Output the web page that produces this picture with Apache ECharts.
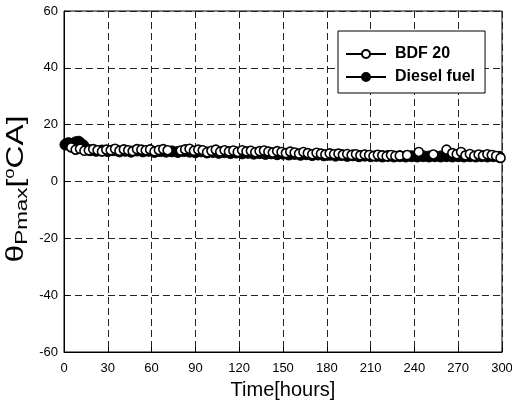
<!DOCTYPE html>
<html><head><meta charset="utf-8">
<script src="https://cdn.jsdelivr.net/npm/echarts@6/dist/echarts.min.js"></script>
<style>html,body{margin:0;padding:0;background:#fff}#c{width:512px;height:413px}</style>
</head><body><div id="c"></div>
<script>
var xTicks = [0, 30, 60, 90, 120, 150, 180, 210, 240, 270, 300];
var yTicks = [-60, -40, -20, 0, 20, 40, 60];
var seriesNames = ['BDF 20', 'Diesel fuel'];
var xTitle = 'Time[hours]';
var yTitle = '{t|θ}{s|Pmax}{t|[}{o|o}{t|CA]}';

var bdf20 = [
 [5,12.0],[8,11.2],[11,11.5],[14,10.8],[17,11.0],[20,11.4],[23,11.0],[26,10.6],[29,11.2],[32,11.0],
 [35,11.5],[38,10.8],[41,11.3],[44,11.0],[47,10.7],[50,11.4],[53,11.2],[56,11.0],[59,11.3],[62,10.6],
 [65,11.1],[68,11.4],[71,11.0],[80,10.9],[83,11.3],[86,11.5],[89,10.8],[92,11.2],[95,11.0],[98,10.3],
 [101,10.8],[104,11.2],[107,10.5],[110,11.0],[113,10.6],[116,10.9],[119,10.4],[122,11.0],[125,10.6],[128,10.8],
 [131,10.3],[134,10.7],[137,10.9],[140,10.5],[143,10.2],[146,10.7],[149,10.4],[152,10.0],[155,10.5],[158,10.2],
 [161,9.8],[164,10.4],[167,10.0],[170,9.6],[173,10.1],[176,9.8],[179,9.5],[182,9.9],[185,9.6],[188,9.8],
 [191,9.4],[194,9.7],[197,9.3],[200,9.6],[203,9.2],[206,9.5],[209,9.3],[212,9.0],[215,9.4],[218,9.2],
 [221,8.9],[224,9.3],[227,9.0],[230,9.1],[235,9.3],[243,10.4],[253,9.5],[262,11.2],[266,10.0],[269,9.6],
 [272,10.4],[275,9.2],[278,9.7],[281,9.0],[284,9.5],[287,9.1],[290,9.6],[293,9.3],[296,9.0],[299,8.3]
];

var diesel = [
 [1,13.0],[2,13.2],[3,13.5],[4,13.0],[5,12.8],[6,13.3],[8,13.8],[10,14.0],[11,13.5],[13,12.8],
 [15,11.5],[18,11.0],[22,10.8],[26,10.9],[30,10.7],[34,11.0],[38,10.6],[42,10.8],[46,10.5],[50,10.9],
 [54,10.6],[58,10.8],[62,10.4],[66,10.7],[70,10.5],[74,10.6],[78,10.4],[82,10.7],[86,10.5],[90,10.3],
 [94,10.6],[98,10.2],[102,10.4],[106,10.1],[110,10.3],[114,10.0],[118,10.2],[122,9.9],[126,10.1],[130,9.8],
 [134,10.0],[138,9.7],[142,9.9],[146,9.6],[150,9.8],[154,9.5],[158,9.7],[162,9.4],[166,9.6],[170,9.3],
 [174,9.5],[178,9.2],[182,9.4],[186,9.1],[190,9.3],[194,9.0],[198,9.2],[202,8.9],[206,9.1],[210,8.9],
 [214,9.0],[218,8.8],[222,9.0],[226,8.8],[230,8.9],[234,8.8],[238,8.9],[242,8.8],[246,8.9],[250,8.8],
 [254,8.9],[258,8.8],[262,8.9],[266,8.8],[270,8.9],[274,8.8],[278,8.9],[282,8.8],[286,8.9],[290,8.8],
 [294,8.9],[298,8.7]
];

var chart = echarts.init(document.getElementById('c'), null, {renderer: 'canvas'});
var FONT = '"Liberation Sans", Arial, sans-serif';
chart.setOption({
  animation: false,
  backgroundColor: '#fff',
  grid: {left: 64, right: 10, top: 11, bottom: 61, show: true, borderColor: '#000', borderWidth: 1,
         backgroundColor: 'transparent', containLabel: false, outerBoundsMode: 'none'},
  graphic: [{
    type: 'text', x: 31, y: 189, rotation: Math.PI / 2, scaleX: 1.32, silent: true,
    style: {
      text: yTitle, align: 'center', verticalAlign: 'bottom', fill: '#000',
      font: '24px ' + FONT,
      rich: {
        t: {fontFamily: FONT, fontSize: 24, fill: '#000'},
        s: {fontFamily: FONT, fontSize: 17, fill: '#000', padding: [13, 0, 0, 0]},
        o: {fontFamily: FONT, fontSize: 14, fill: '#000', padding: [0, 0, 12, 0]}
      }
    }
  }],
  xAxis: {
    type: 'value', min: xTicks[0], max: xTicks[xTicks.length - 1], interval: 30,
    name: xTitle, nameLocation: 'middle', nameGap: 28,
    nameTextStyle: {fontFamily: FONT, fontSize: 20, color: '#000'},
    axisLine: {show: true, onZero: false, lineStyle: {color: '#000'}},
    axisTick: {show: true, inside: true, length: 5, lineStyle: {color: '#000'}},
    axisLabel: {fontFamily: FONT, fontSize: 13, color: '#000', margin: 10},
    splitLine: {show: true, lineStyle: {color: '#222', type: [7, 4], width: 1}}
  },
  yAxis: {
    type: 'value', min: yTicks[0], max: yTicks[yTicks.length - 1], interval: 20,
    axisLine: {show: true, onZero: false, lineStyle: {color: '#000'}},
    axisTick: {show: true, inside: true, length: 5, lineStyle: {color: '#000'}},
    axisLabel: {fontFamily: FONT, fontSize: 13, color: '#000', margin: 6},
    splitLine: {show: true, lineStyle: {color: '#222', type: [7, 4], width: 1}}
  },
  legend: {
    data: seriesNames,
    orient: 'vertical', left: 338, top: 31, width: 149,
    padding: [15, 10, 8, 7],
    itemGap: 7, itemWidth: 40, itemHeight: 10,
    backgroundColor: '#fff', borderColor: '#000', borderWidth: 1,
    textStyle: {fontFamily: FONT, fontSize: 16, fontWeight: 'bold', color: '#000', padding: [0, 0, 0, 4]}
  },
  series: [
    {
      name: seriesNames[1], type: 'line', data: diesel, z: 2,
      symbol: 'circle', symbolSize: 11, showAllSymbol: true,
      lineStyle: {color: '#000', width: 2},
      itemStyle: {color: '#000', borderColor: '#000', borderWidth: 1}
    },
    {
      name: seriesNames[0], type: 'line', data: bdf20, z: 3,
      symbol: 'circle', symbolSize: 9, showAllSymbol: true,
      lineStyle: {color: '#000', width: 1.2},
      itemStyle: {color: '#fff', borderColor: '#000', borderWidth: 1.6}
    }
  ]
});
</script></body></html>
